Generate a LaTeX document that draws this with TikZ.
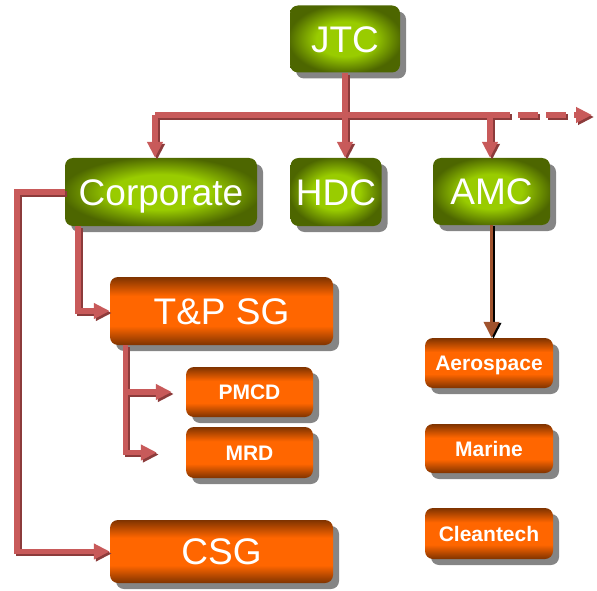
\documentclass[tikz,border=0pt]{standalone}
\usepackage{fontspec}
\setmainfont{Liberation Sans}
\usetikzlibrary{arrows.meta,shadows,calc}
\definecolor{gdark}{HTML}{4D6600}
\definecolor{glight}{HTML}{99CC00}
\definecolor{odark}{HTML}{7F3300}
\definecolor{olight}{HTML}{FF6600}
\definecolor{redline}{HTML}{C85A5A}
\definecolor{reddark}{HTML}{8C3B3B}
\definecolor{brownline}{HTML}{A0522D}
\pgfdeclareradialshading{greenrad}{\pgfpoint{0bp}{0bp}}{color(0bp)=(glight); color(13bp)=(glight); color(26bp)=(gdark); color(50bp)=(gdark)}
\pgfdeclareverticalshading{orangev}{100bp}{color(0bp)=(odark); color(25bp)=(odark); color(39bp)=(olight); color(61bp)=(olight); color(75bp)=(odark); color(100bp)=(odark)}
\newcommand\myredpaths{%
  \draw[conn,tip] (JTC.south) -- (JTC.south |- HDC.north);
  \draw[conn] (busL) -- (busR);
  \draw[conn,tip,dash pattern=on 20pt off 8pt] (busR) -- (busEnd);
  \draw[conn,tip] (busL) -- (busL |- Corporate.north);
  \draw[conn,tip] (busR) -- (busR |- AMC.north);
  \draw[conn,tip] ([xshift=-83pt]Corporate.south) |- (TPSG.west);
  \draw[conn,tip] (Corporate.west) -- ++(-48,0) |- (CSG.west);
  \draw[conn,tip,shorten >=29pt] (tpb) |- (MRD.west);
  \draw[conn,tip,shorten >=14pt] (tpb |- PMCD.west) -- (PMCD.west);
}
\begin{document}
\begin{tikzpicture}[x=1pt,y=-1pt,
  boxbase/.style={rounded corners=8pt, text=white, inner sep=0pt, text depth=0pt,
    drop shadow={shadow xshift=6pt,shadow yshift=-6pt,fill=black!48,opacity=1}},
  greenbox/.style={boxbase, shading=greenrad,
    font=\fontsize{37}{40}\selectfont, text height=26.5pt},
  orangebig/.style={boxbase, shading=orangev,
    font=\fontsize{37}{40}\selectfont, text height=26.5pt},
  orangesmall/.style={boxbase, shading=orangev,
    font=\bfseries\fontsize{21}{24}\selectfont, text height=15pt},
  conncol/.style={draw=redline},
  conn/.style={line width=5.5pt, conncol},
  tip/.style={-{Triangle[length=16pt,width=15pt]}}
]
\useasboundingbox (0,0) rectangle (597,591);
\node[greenbox, minimum width=110pt, minimum height=67pt] (JTC) at (345,39) {JTC};
\node[greenbox, minimum width=192pt, minimum height=68pt] (Corporate) at (161,192) {Corporate};
\node[greenbox, minimum width=91pt, minimum height=68pt] (HDC) at (336,192) {HDC};
\node[greenbox, minimum width=117pt, minimum height=67pt] (AMC) at (491.5,191.5) {AMC};
\node[orangebig, minimum width=223pt, minimum height=68pt] (TPSG) at (221.5,311) {T\&P SG};
\node[orangesmall, minimum width=127pt, minimum height=50pt] (PMCD) at (249.5,392) {PMCD};
\node[orangesmall, minimum width=127pt, minimum height=51pt] (MRD) at (249.5,452.5) {MRD};
\node[orangebig, minimum width=223pt, minimum height=63pt] (CSG) at (221.5,551.5) {CSG};
\node[orangesmall, minimum width=128pt, minimum height=50pt] (Aerospace) at (489,363) {Aerospace};
\node[orangesmall, minimum width=128pt, minimum height=49pt] (Marine) at (489,448.5) {Marine};
\node[orangesmall, minimum width=128pt, minimum height=51pt] (Cleantech) at (489,533.5) {Cleantech};
\coordinate (busL) at (155,115);
\coordinate (busR) at (490,115);
\coordinate (busEnd) at (592,115);
\coordinate (tpb) at ([xshift=-96pt]TPSG.south);
\begin{scope}[transform canvas={shift={(2pt,-2pt)}}]
  \tikzset{conncol/.style={draw=reddark}}
  \myredpaths
\end{scope}
\myredpaths
\draw[line width=3.5pt, draw=black, tip, transform canvas={shift={(2pt,-1pt)}}] (AMC.south) -- (AMC.south |- Aerospace.north);
\draw[line width=3.5pt, draw=brownline, tip] (AMC.south) -- (AMC.south |- Aerospace.north);
\end{tikzpicture}
\end{document}
